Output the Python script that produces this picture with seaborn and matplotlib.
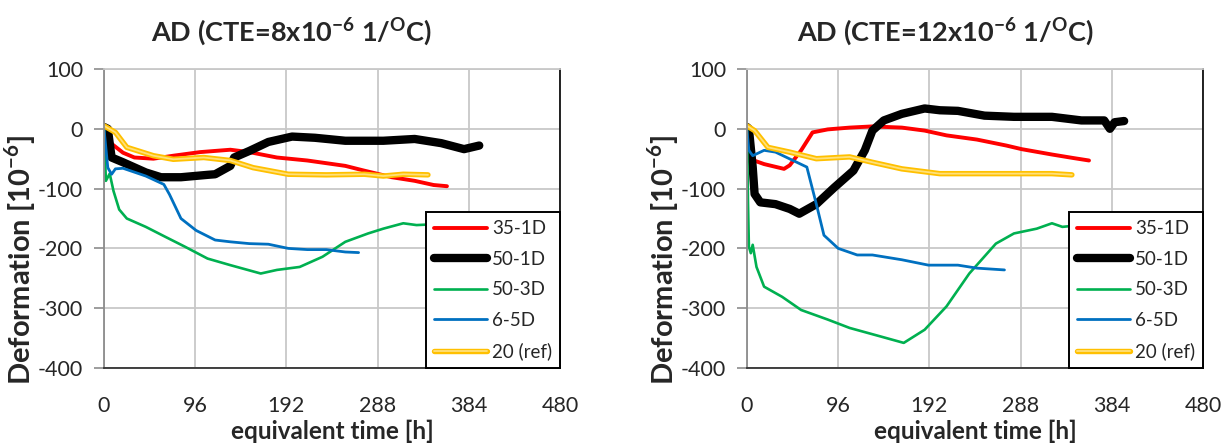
import matplotlib
matplotlib.use("Agg")
import matplotlib.pyplot as plt
import matplotlib.patheffects as pe
import seaborn as sns

sns.set_theme(style="white")
plt.rcParams["font.family"] = ["Lato", "DejaVu Sans"]
plt.rcParams["mathtext.fontset"] = "custom"
plt.rcParams["mathtext.rm"] = "Lato"
plt.rcParams["mathtext.bf"] = "Lato:bold"
plt.rcParams["axes.unicode_minus"] = False

# ---- series: (equivalent time [h], deformation [1e-6]) ----
series_names = ["35-1D", "50-1D", "50-3D", "6-5D", "20 (ref)"]

# CTE = 8e-6 1/°C
t8_35_1D = [8, 20, 32, 52, 73, 101, 133, 153, 182, 214, 254, 274, 303, 327, 347, 361]
v8_35_1D = [-25, -40, -48, -50, -45, -39, -35, -39, -48, -53, -62, -70, -81, -87, -94, -96]
t8_50_1D = [0, 4, 8, 20, 44, 60, 81, 109, 117, 133, 137, 153, 173, 198, 222, 254, 294, 327, 355, 379, 395]
v8_50_1D = [3, 0, -48, -56, -73, -81, -81, -77, -76, -62, -48, -37, -22, -13, -15, -20, -20, -17, -24, -34, -28]
t8_50_3D = [0, 2, 6, 10, 16, 24, 44, 65, 85, 109, 133, 165, 182, 206, 230, 254, 278, 294, 315, 329, 370, 411, 456]
v8_50_3D = [0, -87, -75, -104, -135, -150, -164, -181, -197, -217, -228, -242, -236, -231, -214, -189, -175, -167, -158, -161, -158, -152, -155]
t8_6_5D = [0, 4, 8, 12, 20, 44, 63, 69, 81, 97, 117, 133, 153, 173, 194, 214, 234, 254, 268]
v8_6_5D = [0, -65, -76, -67, -66, -79, -93, -110, -150, -170, -186, -189, -192, -193, -200, -202, -202, -206, -207]
t8_20ref = [0, 12, 24, 52, 73, 105, 133, 157, 194, 234, 274, 294, 315, 341]
v8_20ref = [5, -6, -31, -45, -51, -48, -53, -65, -76, -77, -76, -79, -76, -77]

# CTE = 12e-6 1/°C
t12_35_1D = [2, 18, 39, 45, 57, 69, 85, 108, 132, 163, 187, 210, 242, 273, 289, 321, 344, 360]
v12_35_1D = [-50, -59, -67, -61, -36, -6, -1, 2, 4, 2, -3, -11, -18, -28, -34, -43, -49, -53]
t12_50_1D = [0, 2, 6, 8, 14, 30, 45, 55, 73, 92, 112, 124, 132, 144, 163, 187, 203, 222, 250, 281, 321, 352, 376, 382, 387, 397]
v12_50_1D = [3, 0, -64, -109, -123, -126, -134, -142, -126, -98, -70, -36, -3, 14, 25, 34, 31, 30, 22, 20, 20, 14, 14, 0, 11, 13]
t12_50_3D = [0, 1, 2, 4, 6, 10, 18, 37, 57, 85, 108, 140, 165, 187, 210, 234, 262, 281, 305, 321, 332, 370, 415, 458]
v12_50_3D = [0, -120, -197, -208, -194, -231, -264, -281, -303, -319, -333, -347, -358, -336, -297, -242, -192, -175, -167, -158, -164, -158, -151, -153]
t12_6_5D = [0, 2, 6, 18, 30, 63, 73, 81, 96, 116, 132, 163, 191, 222, 242, 271]
v12_6_5D = [-3, -36, -45, -36, -39, -64, -126, -178, -200, -211, -211, -219, -228, -228, -233, -236]
t12_20ref = [0, 8, 22, 45, 73, 108, 132, 163, 203, 242, 281, 321, 342]
v12_20ref = [5, -3, -31, -39, -50, -47, -56, -67, -75, -75, -75, -75, -77]

panels = [
    ("8", [(t8_35_1D, v8_35_1D), (t8_50_1D, v8_50_1D), (t8_50_3D, v8_50_3D),
           (t8_6_5D, v8_6_5D), (t8_20ref, v8_20ref)]),
    ("12", [(t12_35_1D, v12_35_1D), (t12_50_1D, v12_50_1D), (t12_50_3D, v12_50_3D),
            (t12_6_5D, v12_6_5D), (t12_20ref, v12_20ref)]),
]

x_ticks = [0, 96, 192, 288, 384, 480]
y_ticks = [100, 0, -100, -200, -300, -400]

colors = ["#FF0000", "#000000", "#00B050", "#0070C0", "#FFE07A"]
widths = [2.8, 6.0, 1.9, 2.0, 1.3]

fig = plt.figure(figsize=(12.24, 4.48), dpi=100)
W, H = 1224, 448
axes_px = [(104, 69, 456, 299), (747, 69, 456, 299)]
title_x = [292, 945]

for (cte, data), (x0, y0, w, h), tx in zip(panels, axes_px, title_x):
    ax = fig.add_axes([x0 / W, 1 - (y0 + h) / H, w / W, h / H])
    for name, (t, v), c, lw in zip(series_names, data, colors, widths):
        kw = {}
        if name == "20 (ref)":
            kw["path_effects"] = [pe.Stroke(linewidth=3.9, foreground="#FFC000"), pe.Normal()]
        sns.lineplot(x=t, y=v, ax=ax, color=c, lw=lw, label=name, sort=False,
                     estimator=None, solid_capstyle="round", **kw)

    ax.set_xlim(0, 480)
    ax.set_ylim(-400, 100)
    ax.set_xticks(x_ticks)
    ax.set_yticks(y_ticks)
    ax.grid(True, color="#C8C8C8", lw=1.3)
    ax.set_axisbelow(True)
    for side, col in [("left", "#8C8C8C"), ("top", "#C8C8C8"),
                      ("right", "#111111"), ("bottom", "#333333")]:
        ax.spines[side].set_color(col)
        ax.spines[side].set_linewidth(1.3)
    ax.tick_params(axis="y", direction="out", length=7, width=1.2, color="#8C8C8C",
                   pad=8, labelsize=15.5, left=True)
    ax.tick_params(axis="x", length=0, pad=20, labelsize=15.5, bottom=True)

    ax.set_xlabel("equivalent time [h]", fontsize=17.5, fontweight="bold")
    ax.xaxis.set_label_coords(0.5, -0.172)
    ax.set_ylabel(r"Deformation [10$^{\mathbf{-6}}$]", fontsize=21, fontweight="bold")
    ax.yaxis.set_label_coords(-0.144, 0.36)

    fig.text(tx / W, 1 - 32 / H,
             "AD (CTE=" + cte + r"x10$^{\mathbf{-6}}$ 1/$^{\mathbf{O}}$C)",
             ha="center", va="center", fontsize=19.5, fontweight="bold")

    leg = ax.legend(loc="lower right", bbox_to_anchor=(1.0, 0.0),
                    borderaxespad=0, fontsize=13.5, handlelength=2.85,
                    labelspacing=0.72, handletextpad=0.27, borderpad=0.42,
                    fancybox=False, framealpha=1, edgecolor="#000000")
    leg.get_frame().set_linewidth(1.4)

fig.savefig("out.png", dpi=100)
